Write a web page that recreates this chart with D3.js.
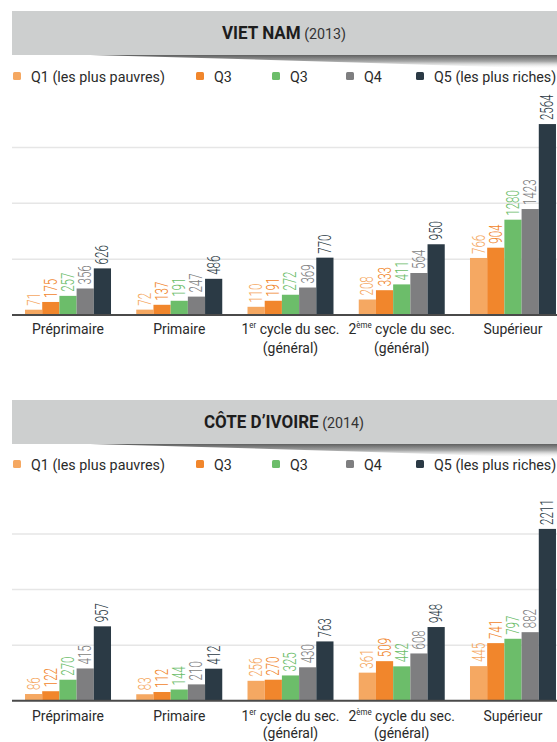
<!DOCTYPE html>
<html><head><meta charset="utf-8">
<script src="https://cdn.jsdelivr.net/npm/d3@7/dist/d3.min.js"></script>
<style>
body{margin:0;background:#fff}
svg{display:block}
text{font-family:Roboto,"Noto Sans",sans-serif}
</style>
</head><body>
<svg id="c" width="557" height="742"></svg>
<script>
// ---------- data ----------
const categories = ["Préprimaire", "Primaire", "1er cycle du sec. (général)", "2ème cycle du sec. (général)", "Supérieur"];
// label lines; ^{..} marks superscript
const categoryLines = [["Préprimaire"], ["Primaire"], ["1^{er} cycle du sec.", "(général)"], ["2^{ème} cycle du sec.", "(général)"], ["Supérieur"]];
const seriesNames = ["Q1 (les plus pauvres)", "Q3", "Q3", "Q4", "Q5 (les plus riches)"];
const seriesColors = ["#f5a862", "#f1862c", "#6cbd6a", "#7e7e80", "#2b3a45"];

const vnQ1 = [71, 72, 110, 208, 766];
const vnQ2 = [175, 137, 191, 333, 904];
const vnQ3 = [257, 191, 272, 411, 1280];
const vnQ4 = [356, 247, 369, 564, 1423];
const vnQ5 = [626, 486, 770, 950, 2564];

const ciQ1 = [86, 83, 256, 361, 445];
const ciQ2 = [122, 112, 270, 509, 741];
const ciQ3 = [270, 144, 325, 442, 797];
const ciQ4 = [415, 210, 430, 608, 882];
const ciQ5 = [957, 412, 763, 948, 2211];

const vnGrid = [750, 1500, 2250];
const ciGrid = [715, 1430, 2145];

// ---------- layout ----------
const panels = [
  {title: "VIET NAM", year: "(2013)", series: [vnQ1, vnQ2, vnQ3, vnQ4, vnQ5], grid: vnGrid,
   top: 11, base: 315, plotTop: 91.6, yMax: 3000, lab1: 334, lab2: 353, legendY: 82},
  {title: "CÔTE D’IVOIRE", year: "(2014)", series: [ciQ1, ciQ2, ciQ3, ciQ4, ciQ5], grid: ciGrid,
   top: 400, base: 700.7, plotTop: 467.6, yMax: 3000, lab1: 721, lab2: 738, legendY: 470}
];

const svg = d3.select("#c");
const defs = svg.append("defs");
const grad = defs.append("linearGradient").attr("id", "shadow").attr("x1", 0).attr("y1", 0).attr("x2", 0).attr("y2", 1);
grad.append("stop").attr("offset", "0%").attr("stop-color", "#5f6060");
grad.append("stop").attr("offset", "45%").attr("stop-color", "#a4a5a5");
grad.append("stop").attr("offset", "100%").attr("stop-color", "#ffffff").attr("stop-opacity", 0);

const W = 557, left = 12;
const x = d3.scaleBand().domain(categories).range([left, 569]).paddingInner(0.227).paddingOuter(0.117);
const xi = d3.scaleBand().domain(d3.range(seriesNames.length)).range([0, x.bandwidth()]);
const legendX = [13, 196, 272, 346, 416];

panels.forEach(p => {
  const g = svg.append("g");
  const y = d3.scaleLinear().domain([0, p.yMax]).range([p.base, p.plotTop]);

  // banner shadow
  const sy = p.top + 44;
  g.append("path")
    .attr("d", `M90,${sy} L${W},${sy} L${W},${sy + 14} Q320,${sy + 6} 90,${sy} Z`)
    .attr("fill", "url(#shadow)");
  g.append("rect").attr("x", left).attr("y", p.top).attr("width", W - left).attr("height", 44).attr("fill", "#cdcfcf");

  const t = g.append("text").attr("transform", `translate(284,${p.top + 28}) scale(0.92,1)`)
    .attr("text-anchor", "middle").attr("fill", "#1d1d1d");
  t.append("tspan").attr("font-weight", 700).attr("font-size", 18.5).text(p.title);
  t.append("tspan").attr("font-size", 15.5).attr("fill", "#333").text(" " + p.year);

  // legend
  const lg = g.selectAll("g.leg").data(seriesNames).join("g").attr("class", "leg")
    .attr("transform", (d, i) => `translate(${legendX[i]},${p.legendY})`);
  lg.append("rect").attr("x", 0).attr("y", -10).attr("width", 8).attr("height", 8).attr("rx", 1.5)
    .attr("fill", (d, i) => seriesColors[i]);
  lg.append("text").attr("x", 18).attr("y", 0).attr("font-size", 14.3).attr("fill", "#2a2a2a").text(d => d);

  // gridlines
  g.selectAll("line.grid").data(p.grid).join("line").attr("class", "grid")
    .attr("x1", left).attr("x2", W).attr("y1", d => y(d)).attr("y2", d => y(d))
    .attr("stroke", "#e6e6e6").attr("stroke-width", 1.5);

  // bars
  const groups = g.selectAll("g.cat").data(categories).join("g").attr("class", "cat")
    .attr("transform", d => `translate(${x(d)},0)`);
  groups.each(function (cat, ci) {
    const gg = d3.select(this);
    const vals = p.series.map((s, si) => ({si, v: s[ci]}));
    gg.selectAll("rect").data(vals).join("rect")
      .attr("x", d => xi(d.si)).attr("width", xi.bandwidth())
      .attr("y", d => y(d.v)).attr("height", d => y(0) - y(d.v))
      .attr("fill", d => seriesColors[d.si]);
    gg.selectAll("text.val").data(vals).join("text").attr("class", "val")
      .attr("transform", d => `translate(${xi(d.si) + xi.bandwidth() / 2},${y(d.v) - 4}) rotate(-90) scale(0.64,1)`)
      .attr("dominant-baseline", "central")
      .attr("font-size", 18).attr("font-weight", 300).attr("fill", d => seriesColors[d.si]).text(d => d.v);
  });

  // baseline
  g.append("line").attr("x1", left).attr("x2", W).attr("y1", y(0)).attr("y2", y(0))
    .attr("stroke", "#4a4a4a").attr("stroke-width", 2);

  // category labels
  categories.forEach((cat, ci) => {
    const cx = x(cat) + x.bandwidth() / 2;
    categoryLines[ci].forEach((line, li) => {
      const tx = g.append("text")
        .attr("transform", `translate(${cx},${li === 0 ? p.lab1 : p.lab2}) scale(0.93,1)`)
        .attr("text-anchor", "middle").attr("font-size", 15).attr("fill", "#2a2a2a");
      const m = line.match(/^(.*?)\^\{(.*?)\}(.*)$/);
      if (m) {
        tx.append("tspan").text(m[1]);
        tx.append("tspan").attr("font-size", 8.5).attr("dy", -6).text(m[2]);
        tx.append("tspan").attr("dy", 6).text(m[3]);
      } else tx.text(line);
    });
  });
});
</script>
</body></html>
